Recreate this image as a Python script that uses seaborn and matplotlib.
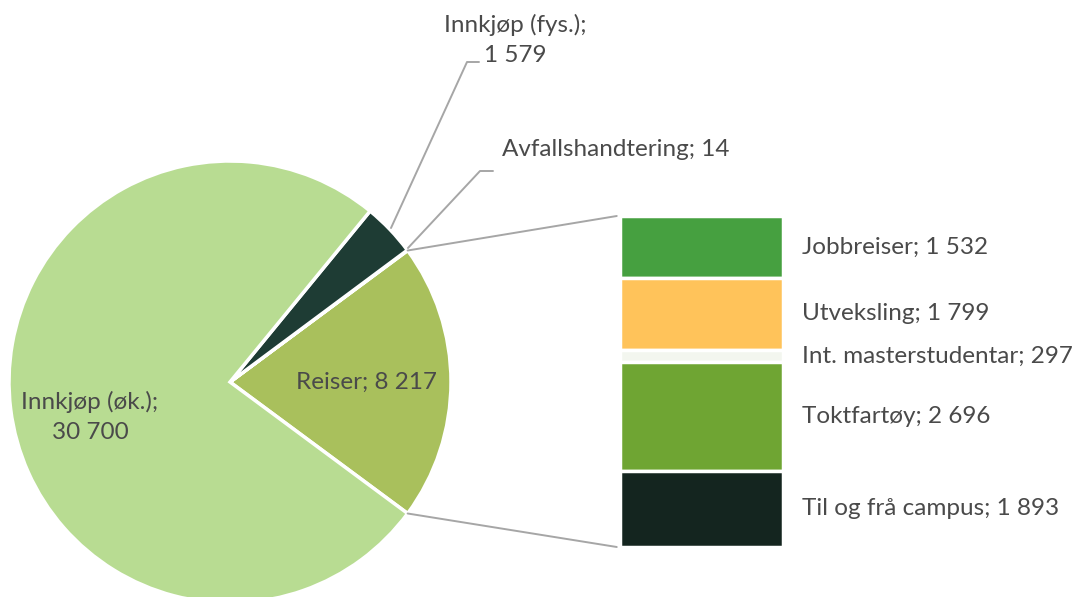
import matplotlib.pyplot as plt
import seaborn as sns
import numpy as np
from matplotlib.patches import ConnectionPatch

# Pie data (Reiser first so it sits on the right side)
pie_labels = ['Reiser', 'Avfallshandtering', 'Innkjøp (fys.)', 'Innkjøp (øk.)']
pie_values = [8217, 14, 1579, 30700]
pie_colors = ['#A9C05C', '#1E3C34', '#1E3C34', '#B8DC92']

# Breakdown of Reiser (top to bottom)
bar_labels = ['Jobbreiser', 'Utveksling', 'Int. masterstudentar', 'Toktfartøy', 'Til og frå campus']
bar_values = [1532, 1799, 297, 2696, 1893]
bar_colors = ['#46A040', '#FFC35A', '#F3F6EF', '#6FA533', '#14251F']


def fmt(v):
    return f'{v:,}'.replace(',', ' ')


sns.set_theme(style="white")
plt.rcParams['font.family'] = ['Lato', 'DejaVu Sans']
text_color = '#4A4A4A'
line_color = '#A6A6A6'
fs = 17.5

W, H = 1077, 597
fig = plt.figure(figsize=(W / 100, H / 100), dpi=100)

# Pie axes in pixel coordinates (y measured from bottom)
ax = fig.add_axes([0, 0, 1, 1])

cx, cy, r = 230, H - 382, 221
reiser_angle = pie_values[0] / sum(pie_values) * 360
start = -reiser_angle / 2
wedges, _ = ax.pie(pie_values, colors=pie_colors, startangle=start, radius=r,
                   center=(cx, cy), counterclock=True, frame=True,
                   wedgeprops=dict(edgecolor='white', linewidth=2.5))
ax.set_xlim(0, W)
ax.set_ylim(0, H)
ax.set_aspect('equal')
ax.axis('off')

ax.text(367, H - 382, f'Reiser; {fmt(pie_values[0])}', ha='center', va='center',
        fontsize=fs, color=text_color)
ax.text(90, H - 417, f'Innkjøp (øk.);\n{fmt(pie_values[3])}', ha='center', va='center',
        fontsize=fs, color=text_color, linespacing=1.5)
ax.text(515, H - 40, f'Innkjøp (fys.);\n{fmt(pie_values[2])}', ha='center', va='center',
        fontsize=fs, color=text_color, linespacing=1.5)
ax.text(502, H - 150, f'Avfallshandtering; {fmt(pie_values[1])}', ha='left', va='center',
        fontsize=fs, color=text_color)

# Leader lines
ax.plot([391, 467, 479], [H - 228, H - 62, H - 62], color=line_color, lw=1.4)
ax.plot([408, 480, 493], [H - 248, H - 171, H - 171], color=line_color, lw=1.4)

# Stacked bar for Reiser
ax_bar = fig.add_axes([620 / W, (H - 547) / H, 163 / W, 331 / H])
bottoms = sum(bar_values) - np.cumsum(bar_values)
ax_bar.bar(np.zeros(len(bar_values)), bar_values, bottom=bottoms, width=1,
           color=bar_colors, edgecolor='white', linewidth=2.5)
ax_bar.set_xlim(-0.5, 0.5)
ax_bar.set_ylim(0, sum(bar_values))
ax_bar.axis('off')

for lab, val, b in zip(bar_labels, bar_values, bottoms):
    ax_bar.annotate(f'{lab}; {fmt(val)}', xy=(1, b + val / 2),
                    xycoords=('axes fraction', 'data'), xytext=(13.5, 0),
                    textcoords='offset points', ha='left', va='center',
                    fontsize=fs, color=text_color, annotation_clip=False)

# Connectors between pie wedge and bar
for ang, yb in [(reiser_angle / 2, sum(bar_values)), (-reiser_angle / 2, 0)]:
    px = cx + r * np.cos(np.radians(ang))
    py = cy + r * np.sin(np.radians(ang))
    con = ConnectionPatch(xyA=(-0.52, yb), coordsA=ax_bar.transData,
                          xyB=(px, py), coordsB=ax.transData,
                          color=line_color, lw=1.4)
    fig.add_artist(con)

plt.savefig('out.png', dpi=100)
